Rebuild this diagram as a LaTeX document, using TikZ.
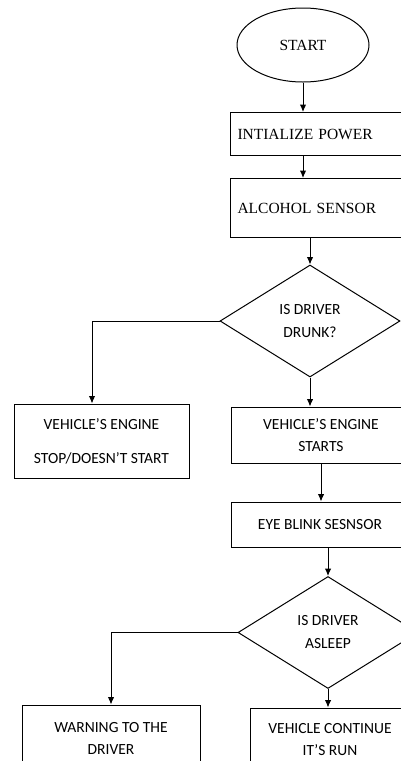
\documentclass[tikz,border=0pt]{standalone}
\usepackage{fontspec}
\setmainfont{Liberation Serif}
\newfontfamily\calibri{Carlito}
\usetikzlibrary{shapes.geometric,arrows.meta}
\begin{document}
\begin{tikzpicture}[x=1pt,y=-1pt,line width=1pt,
    >={Latex[length=7.5pt,width=6.5pt]},
    tbox/.style={draw,rectangle,anchor=north west,inner xsep=7pt,text width=186pt,
      align=left,minimum width=200pt,font=\fontsize{15.5}{18}\selectfont},
    cbox/.style={draw,rectangle,align=center,font=\calibri\fontsize{15.5}{22}\selectfont},
    decide/.style={draw,diamond,align=center,minimum width=180pt,minimum height=112pt,
      inner sep=0pt,font=\calibri\fontsize{15.5}{23}\selectfont}]
  \useasboundingbox (0,0) rectangle (401,761);
  \clip (0,0) rectangle (401,761);
  % top part
  \node[draw,ellipse,minimum width=132pt,minimum height=74pt,
    font=\fontsize{15.5}{18}\selectfont] (start) at (303,45) {START};
  \node[tbox,minimum height=43pt] (init) at (230,112) {INTIALIZE POWER};
  \node[tbox,minimum height=59pt] (alc) at (230,178) {ALCOHOL SENSOR};
  \node[decide] (drunk) at (310,321) {IS DRIVER\\DRUNK?};
  \node[cbox,minimum width=175pt,minimum height=74pt] (stop) at (101.5,441)
    {VEHICLE’S ENGINE\\[12pt]STOP/DOESN’T START};
  \node[cbox,minimum width=180pt,minimum height=56pt] (starts) at (321,435)
    {VEHICLE’S ENGINE\\STARTS};
  % bottom part
  \node[cbox,minimum width=178pt,minimum height=45pt] (eye) at (320,524.5) {EYE BLINK SESNSOR};
  \node[decide] (asleep) at (328,632.5) {IS DRIVER\\ASLEEP};
  \node[cbox,minimum width=178pt,minimum height=66pt] (warn) at (111,738) {WARNING TO THE\\DRIVER};
  \node[cbox,minimum width=160pt,minimum height=64pt] (cont) at (330,740) {VEHICLE CONTINUE\\IT’S RUN};
  % arrows
  \draw[->] (start.south) -- (start.south |- init.north);
  \draw[->] (start.south |- init.south) -- (start.south |- alc.north);
  \draw[->] (drunk.north |- alc.south) -- (drunk.north);
  \draw[->] (drunk.west) -| ([xshift=-9.5pt]stop.north);
  \draw[->] (drunk.south) -- (drunk.south |- starts.north);
  \draw[->] (starts.south) -- (starts.south |- eye.north);
  \draw[->] (asleep.north |- eye.south) -- (asleep.north);
  \draw[->] (asleep.west) -| (warn.north);
  \draw[->] (asleep.south) -- (asleep.south |- cont.north);
\end{tikzpicture}
\end{document}
